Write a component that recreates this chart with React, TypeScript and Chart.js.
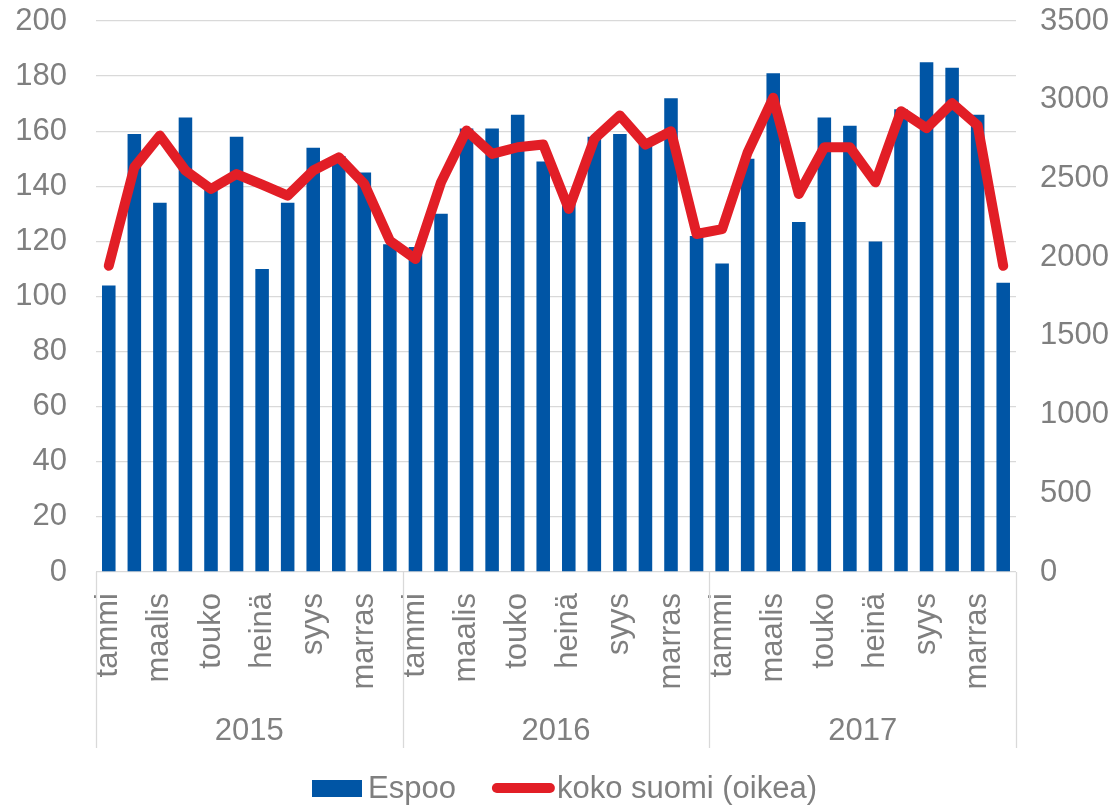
import React, { useEffect, useRef } from 'react';
import { Chart, registerables } from 'chart.js';

Chart.register(...registerables);

const years = ['2015', '2016', '2017'];
const months = ['tammi', 'helmi', 'maalis', 'huhti', 'touko', 'kesä', 'heinä', 'elo', 'syys', 'loka', 'marras', 'joulu'];

const espoo = [
  104, 159, 134, 165, 140, 158, 110, 134, 154, 151, 145, 119,
  118, 130, 161, 161, 166, 149, 135, 158, 159, 156, 172, 122,
  112, 150, 181, 127, 165, 162, 120, 168, 185, 183, 166, 105,
];

const kokoSuomi = [
  1945, 2571, 2772, 2550, 2433, 2528, 2461, 2391, 2550, 2634, 2465, 2104,
  1988, 2475, 2804, 2656, 2698, 2715, 2306, 2751, 2900, 2715, 2800, 2147,
  2178, 2666, 3012, 2401, 2698, 2698, 2475, 2927, 2819, 2978, 2836, 1945,
];

const leftAxis = { min: 0, max: 200, step: 20 };
const rightAxis = { min: 0, max: 3500, step: 500 };

const seriesNames = ['Espoo', 'koko suomi (oikea)'];

const FONT = '"Liberation Sans", Arial, sans-serif';
const FSIZE = 31;
const GRAY = '#7f7f7f';
const BLUE = '#0055a5';
const RED = '#e21e26';
const GRID = '#d9d9d9';

const categories = years.flatMap((y) => months.map((m) => `${m} ${y}`));

const extrasPlugin = {
  id: 'extras',
  afterDraw(chart: any) {
    const ctx = chart.ctx as CanvasRenderingContext2D;
    const xs = chart.scales.x;
    const area = chart.chartArea;
    ctx.save();
    // year separators
    ctx.strokeStyle = GRID;
    ctx.lineWidth = 1.3;
    for (let k = 0; k <= years.length; k++) {
      const x = Math.round(xs.getPixelForValue(12 * k - 0.5)) + 0.5;
      ctx.beginPath();
      ctx.moveTo(x, area.bottom);
      ctx.lineTo(x, area.bottom + 176);
      ctx.stroke();
    }
    // year labels
    ctx.fillStyle = GRAY;
    ctx.font = `${FSIZE}px ${FONT}`;
    ctx.textAlign = 'center';
    ctx.textBaseline = 'middle';
    years.forEach((y, k) => {
      const x = xs.getPixelForValue(12 * k + 5.5);
      ctx.fillText(y, x, area.bottom + 159);
    });
    // legend
    const ly = 789;
    ctx.fillStyle = BLUE;
    ctx.fillRect(312, 780, 50, 17);
    ctx.fillStyle = GRAY;
    ctx.textAlign = 'left';
    ctx.fillText(seriesNames[0], 368, ly);
    const wE = ctx.measureText(seriesNames[0]).width;
    const lx0 = 368 + wE + 41;
    const lx1 = lx0 + 53;
    ctx.strokeStyle = RED;
    ctx.lineWidth = 10;
    ctx.lineCap = 'round';
    ctx.beginPath();
    ctx.moveTo(lx0, 788);
    ctx.lineTo(lx1, 788);
    ctx.stroke();
    ctx.fillStyle = GRAY;
    ctx.fillText(seriesNames[1], lx1 + 7, ly);
    ctx.restore();
  },
};

export default function App() {
  const ref = useRef<HTMLCanvasElement>(null);
  useEffect(() => {
    document.body.style.margin = '0';
    const canvas = ref.current;
    if (!canvas) return;
    Chart.defaults.font.family = FONT;
    Chart.defaults.color = GRAY;
    const chart = new Chart(canvas, {
      type: 'bar',
      data: {
        labels: categories,
        datasets: [
          {
            type: 'line',
            label: seriesNames[1],
            data: kokoSuomi,
            yAxisID: 'y1',
            borderColor: RED,
            backgroundColor: RED,
            borderWidth: 10,
            pointRadius: 0,
            tension: 0,
            borderJoinStyle: 'round',
            borderCapStyle: 'round',
            order: 0,
          } as any,
          {
            type: 'bar',
            label: seriesNames[0],
            data: espoo,
            yAxisID: 'y',
            backgroundColor: BLUE,
            barPercentage: 0.53,
            categoryPercentage: 1,
            order: 1,
          },
        ],
      },
      options: {
        animation: false,
        responsive: false,
        devicePixelRatio: 1,
        layout: { padding: { top: 21, bottom: 60, left: 0, right: 0 } },
        plugins: {
          legend: { display: false },
          tooltip: { enabled: false },
        },
        scales: {
          x: {
            grid: { display: false },
            border: { display: false },
            ticks: {
              autoSkip: false,
              maxRotation: 90,
              minRotation: 90,
              padding: 13,
              color: GRAY,
              font: { size: FSIZE, family: FONT },
              callback: (_v: any, i: number) => (i % 2 === 0 ? months[i % 12] : ''),
            },
            afterFit: (s: any) => {
              s.height = 176;
              s.paddingLeft = 0;
              s.paddingRight = 0;
            },
          },
          y: {
            position: 'left',
            min: leftAxis.min,
            max: leftAxis.max,
            ticks: {
              stepSize: leftAxis.step,
              padding: 29,
              color: GRAY,
              font: { size: FSIZE, family: FONT },
              callback: (v: any) => String(v),
            },
            grid: { color: GRID, lineWidth: 1.3, drawTicks: false },
            border: { display: false },
            afterFit: (s: any) => {
              s.width = 96;
              s.paddingTop = 0;
              s.paddingBottom = 0;
            },
          },
          y1: {
            position: 'right',
            min: rightAxis.min,
            max: rightAxis.max,
            ticks: {
              stepSize: rightAxis.step,
              padding: 24,
              color: GRAY,
              font: { size: FSIZE, family: FONT },
              callback: (v: any) => String(v),
            },
            grid: { drawOnChartArea: false, drawTicks: false },
            border: { display: false },
            afterFit: (s: any) => {
              s.width = 104;
              s.paddingTop = 0;
              s.paddingBottom = 0;
            },
          },
        },
      } as any,
      plugins: [extrasPlugin],
    });
    return () => chart.destroy();
  }, []);
  return <canvas ref={ref} width={1120} height={808} style={{ display: 'block' }} />;
}
